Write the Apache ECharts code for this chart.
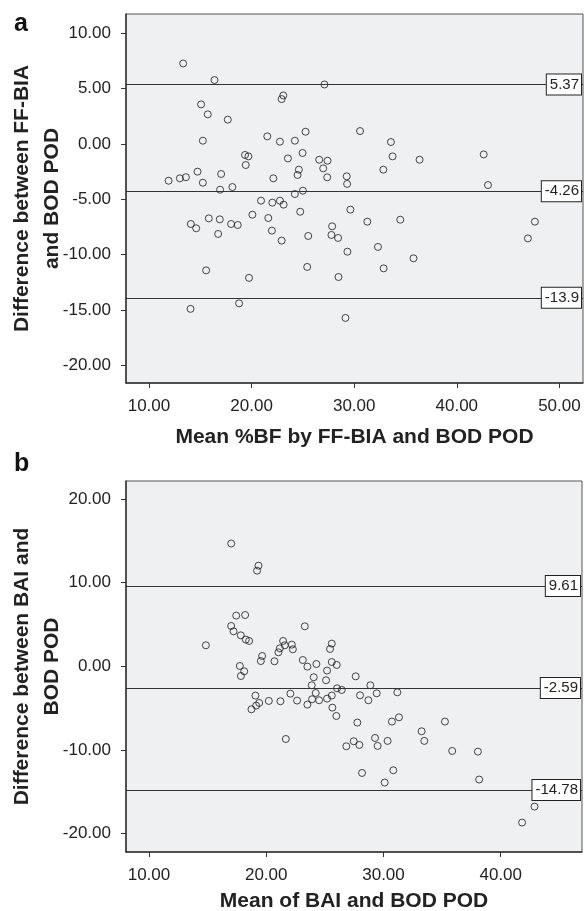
<!DOCTYPE html>
<html>
<head>
<meta charset="utf-8">
<script src="https://cdn.jsdelivr.net/npm/echarts@6/dist/echarts.min.js"></script>
<style>
html,body{margin:0;padding:0;background:#fff;}
#c{width:585px;height:911px;}
</style>
</head>
<body>
<div id="c"></div>
<script>
// Panel a: mean %BF (x) vs difference FF-BIA - BOD POD (y)
const aMean = [13.33,16.38,27.1,23.09,22.93,15.08,15.73,17.68,25.26,21.53,15.25,22.76,24.22,19.36,19.69,19.43,24.97,23.54,26.59,27.4,26.98,27.37,24.61,24.48,22.12,25.0,24.22,11.91,13.01,13.6,14.73,15.25,17.03,16.93,18.13,20.92,22.02,22.76,23.12,20.08,21.63,24.74,14.08,14.6,15.83,16.9,16.74,18.0,18.65,21.98,22.93,25.52,25.42,15.57,19.75,14.05,18.78,27.85,27.78,28.43,29.63,31.28,34.49,29.34,32.32,35.78,32.87,28.47,29.15,47.61,46.93,30.57,33.58,33.74,36.37,32.84,42.62,43.04,29.27,29.31];
const aDiff = [7.28,5.78,5.38,4.39,4.06,3.58,2.68,2.2,1.11,0.69,0.30,0.21,0.30,-0.99,-1.12,-1.90,-0.81,-1.30,-1.42,-1.51,-2.2,-3.01,-2.32,-2.8,-3.1,-4.22,-4.52,-3.32,-3.1,-3.0,-2.5,-3.5,-2.71,-4.13,-3.89,-5.12,-5.30,-5.12,-5.48,-6.39,-6.69,-6.12,-7.23,-7.62,-6.72,-6.81,-8.13,-7.23,-7.32,-7.83,-8.73,-8.31,-11.11,-11.42,-12.1,-14.9,-14.4,-7.44,-8.22,-8.49,-5.93,-7.02,-6.84,-9.73,-9.3,-10.33,-11.24,-12.02,-15.72,-7.02,-8.53,1.17,0.18,-1.12,-1.42,-2.32,-0.94,-3.71,-2.92,-3.61];
const aLines = [5.37, -4.26, -13.9];
const aLineLabels = ['5.37', '-4.26', '-13.9'];
const aXTicks = [10, 20, 30, 40, 50];
const aYTicks = [-20, -15, -10, -5, 0, 5, 10];

// Panel b: mean of BAI and BOD POD (x) vs difference (y)
const bMean = [17.01,19.34,19.22,17.44,18.2,17.01,17.21,17.83,18.26,18.54,23.29,14.85,19.65,19.54,17.75,18.12,17.84,20.7,21.44,21.58,21.16,21.04,22.18,22.27,25.59,25.44,23.12,23.51,24.28,25.59,26.01,25.19,24.05,25.1,27.63,28.88,23.88,26.04,26.44,29.42,28.0,28.71,24.22,19.08,19.4,19.14,18.74,20.22,21.21,22.06,22.63,23.51,23.91,24.51,25.19,25.59,25.64,25.98,21.67,31.18,27.77,30.72,31.32,35.24,33.25,33.48,29.28,29.5,30.35,27.46,26.83,27.94,35.86,38.05,38.16,28.17,30.84,30.1,42.88,41.82];
const bDiff = [14.68,12.03,11.43,6.06,6.13,4.82,4.18,3.7,3.19,3.03,4.78,2.51,1.23,0.63,0.04,-0.6,-1.16,0.6,3.03,2.51,2.15,1.67,2.59,2.03,2.71,2.07,0.75,-0.04,0.27,0.51,0.16,-0.51,-1.31,-1.67,-1.2,-2.27,-2.27,-2.63,-2.83,-3.23,-3.47,-4.06,-3.19,-3.5,-4.38,-4.7,-5.14,-4.14,-4.18,-3.27,-4.1,-4.58,-3.94,-4.06,-3.86,-3.5,-4.94,-5.94,-8.69,-3.11,-6.73,-6.61,-6.1,-6.61,-7.77,-8.92,-8.57,-9.52,-8.92,-8.96,-9.56,-9.4,-10.12,-10.2,-13.54,-12.75,-12.43,-13.9,-16.77,-18.68];
const bLines = [9.61, -2.59, -14.78];
const bLineLabels = ['9.61', '-2.59', '-14.78'];
const bXTicks = [10, 20, 30, 40];
const bYTicks = [-20, -10, 0, 10, 20];

const FONT = "'Liberation Sans', Arial, sans-serif";
const INK = '#222';

function zip(xs, ys) { return xs.map((x, i) => [x, ys[i]]); }

function xAxisCfg(idx, min, max, ticks, name, gap) {
  return {
    type: 'value', gridIndex: idx, min: min, max: max,
    name: name, nameLocation: 'middle', nameGap: gap, nameMoveOverlap: false,
    nameTextStyle: { fontFamily: FONT, fontSize: 21, fontWeight: 'bold', color: INK },
    axisLine: { show: true, onZero: false, lineStyle: { color: '#333', width: 1.5 } },
    axisTick: { show: true, length: 5, lineStyle: { color: '#333' }, customValues: ticks },
    axisLabel: { fontFamily: FONT, fontSize: 17, color: INK, margin: 15, customValues: ticks,
                 formatter: v => v.toFixed(2) },
    splitLine: { show: false }
  };
}
function yAxisCfg(idx, min, max, ticks, name) {
  return {
    type: 'value', gridIndex: idx, min: min, max: max,
    name: name, nameLocation: 'middle', nameGap: 59, nameRotate: 90, nameMoveOverlap: false,
    nameTextStyle: { fontFamily: FONT, fontSize: 21, fontWeight: 'bold', color: INK, lineHeight: 30 },
    axisLine: { show: true, onZero: false, lineStyle: { color: '#333', width: 1.5 } },
    axisTick: { show: true, length: 5, lineStyle: { color: '#333' }, customValues: ticks },
    axisLabel: { fontFamily: FONT, fontSize: 17, color: INK, margin: 15, customValues: ticks,
                 formatter: v => v.toFixed(2) },
    splitLine: { show: false }
  };
}
function markLines(vals, labels) {
  return {
    silent: true, symbol: ['none', 'none'], animation: false,
    lineStyle: { color: '#333', width: 1, type: 'solid' },
    label: {
      show: true, position: 'insideEnd', distance: 2,
      fontFamily: FONT, fontSize: 15, color: INK,
      backgroundColor: '#fff', borderColor: '#222', borderWidth: 1,
      padding: [3, 2, 2, 3]
    },
    data: vals.map((v, i) => ({ yAxis: v, label: { formatter: labels[i] } }))
  };
}
function scatter(idx, xs, ys, ml) {
  return {
    type: 'scatter', xAxisIndex: idx, yAxisIndex: idx,
    data: zip(xs, ys), symbol: 'circle', symbolSize: 7,
    itemStyle: { color: 'rgba(0,0,0,0)', borderColor: '#1a1a1a', borderWidth: 1 },
    markLine: ml, z: 3
  };
}

const chart = echarts.init(document.getElementById('c'), null, { renderer: 'canvas' });
chart.setOption({
  animation: false,
  backgroundColor: '#fff',
  title: [
    { text: 'a', left: 9, top: 7, textStyle: { fontFamily: FONT, fontSize: 25, fontWeight: 'bold', color: '#111' } },
    { text: 'b', left: 9, top: 447, textStyle: { fontFamily: FONT, fontSize: 25, fontWeight: 'bold', color: '#111' } }
  ],
  grid: [
    { left: 126, top: 14, width: 457, height: 369, show: true, backgroundColor: '#eff0f2', borderColor: '#555', borderWidth: 1, containLabel: false, outerBoundsMode: 'none' },
    { left: 126, top: 481, width: 456, height: 371, show: true, backgroundColor: '#eff0f2', borderColor: '#555', borderWidth: 1, containLabel: false, outerBoundsMode: 'none' }
  ],
  xAxis: [
    xAxisCfg(0, 7.76, 52.3, aXTicks, 'Mean %BF by FF-BIA and BOD POD', 44),
    xAxisCfg(1, 8.04, 46.93, bXTicks, 'Mean of BAI and BOD POD', 39)
  ],
  yAxis: [
    yAxisCfg(0, -21.6, 11.75, aYTicks, 'Difference between FF-BIA\nand BOD POD'),
    yAxisCfg(1, -22.2, 22.15, bYTicks, 'Difference between BAI and\nBOD POD')
  ],
  series: [
    scatter(0, aMean, aDiff, markLines(aLines, aLineLabels)),
    scatter(1, bMean, bDiff, markLines(bLines, bLineLabels))
  ]
});
</script>
</body>
</html>
